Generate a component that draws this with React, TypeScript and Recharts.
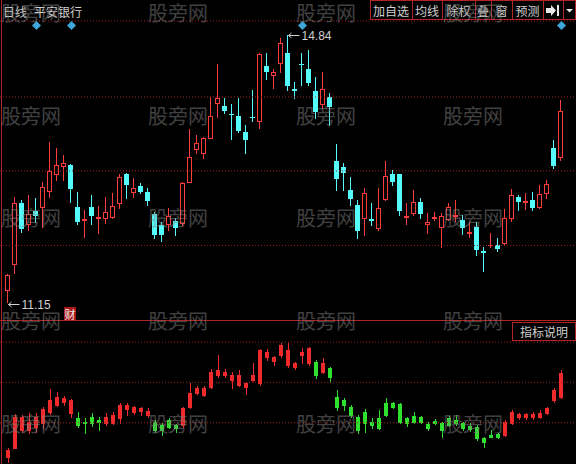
import React from "react";
import { ComposedChart, Bar, Scatter, XAxis, YAxis, ReferenceLine } from "recharts";

// 日K：开、高、低、收（元）
const priceOpen = [
  11.32, 11.68, 12.52, 12.23, 12.41, 12.46, 12.68, 12.91, 13.03, 13.04,
  12.46, 12.28, 12.46, 12.31, 12.31, 12.32, 12.52, 12.91, 12.67, 12.75,
  12.67, 12.37, 12.21, 12.23, 12.27, 12.24, 12.81, 13.26, 13.21, 13.42,
  13.9, 13.86, 13.75, 13.72, 13.49, 13.71, 13.65, 14.41, 14.29, 14.45,
  14.59, 14.09, 14.44, 14.37, 14.07, 13.89, 13.98, 13.09, 13.02, 12.7,
  12.49, 12.31, 12.3, 12.17, 12.57, 12.91, 12.91, 12.32, 12.38, 12.53,
  12.23, 12.31, 12.19, 12.3, 12.34, 12.28, 12.1, 12.19, 11.85, 11.93,
  11.94, 11.97, 12.31, 12.6, 12.53, 12.56, 12.46, 12.66, 13.28, 13.15,
];
const priceHigh = [
  11.54, 12.6, 12.56, 12.63, 12.59, 12.81, 13.36, 13.28, 13.18, 13.05,
  12.67, 12.42, 12.62, 12.48, 12.6, 12.66, 12.91, 12.93, 12.86, 12.79,
  12.73, 12.39, 12.26, 12.45, 12.31, 12.81, 13.54, 13.46, 13.43, 13.98,
  14.43, 13.96, 13.89, 13.96, 13.6, 14.08, 14.59, 14.59, 14.37, 14.8,
  14.84, 14.19, 14.59, 14.63, 14.25, 14.33, 14.04, 13.33, 13.07, 12.88,
  12.56, 12.73, 12.52, 12.73, 13.09, 12.97, 12.92, 12.52, 12.7, 12.59,
  12.38, 12.39, 12.38, 12.52, 12.56, 12.35, 12.26, 12.26, 11.91, 12.1,
  12.03, 12.44, 12.71, 12.63, 12.66, 12.67, 12.77, 12.84, 13.38, 13.94,
];
const priceLow = [
  11.15, 11.55, 12.12, 12.15, 12.26, 12.19, 12.6, 12.84, 12.84, 12.53,
  12.23, 12.05, 12.23, 12.1, 12.24, 12.31, 12.45, 12.59, 12.6, 12.66,
  12.49, 12.03, 11.99, 12.15, 12.08, 12.21, 12.8, 13.21, 13.14, 13.41,
  13.71, 13.76, 13.4, 13.49, 13.21, 13.65, 13.55, 14.23, 14.11, 14.32,
  14.08, 13.97, 14.15, 14.15, 13.69, 13.83, 13.6, 12.7, 12.7, 12.49,
  12.03, 12.08, 12.21, 12.15, 12.56, 12.77, 12.35, 12.23, 12.35, 12.31,
  12.1, 12.28, 11.91, 12.28, 12.27, 12.09, 12.05, 11.8, 11.57, 11.91,
  11.85, 11.95, 12.27, 12.42, 12.44, 12.42, 12.45, 12.59, 13.0, 13.11,
];
const priceClose = [
  11.52, 12.52, 12.17, 12.37, 12.35, 12.74, 12.96, 13.04, 13.07, 12.73,
  12.27, 12.3, 12.35, 12.32, 12.39, 12.48, 12.88, 12.78, 12.73, 12.68,
  12.56, 12.09, 12.09, 12.34, 12.19, 12.79, 13.15, 13.35, 13.42, 13.72,
  13.96, 13.8, 13.74, 13.53, 13.4, 13.7, 14.58, 14.34, 14.33, 14.73,
  14.15, 14.08, 14.43, 14.19, 13.79, 14.09, 13.85, 12.86, 12.95, 12.59,
  12.15, 12.66, 12.28, 12.45, 12.89, 12.82, 12.42, 12.34, 12.53, 12.38,
  12.26, 12.32, 12.34, 12.46, 12.35, 12.19, 12.12, 11.88, 11.84, 11.94,
  11.9, 12.31, 12.63, 12.55, 12.55, 12.46, 12.64, 12.78, 13.04, 13.78,
];

// 副图指标（K线形式）
const oscOpen = [
  5.0, 12.4, 27.3, 27.3, 29.8, 33.1, 42.1, 47.9, 50.4, 41.3,
  37.2, 33.9, 38.0, 35.5, 33.1, 33.1, 37.2, 44.6, 42.1, 43.0,
  39.7, 33.9, 31.4, 35.5, 31.4, 31.4, 46.3, 57.8, 56.2, 62.8,
  72.7, 72.7, 68.6, 64.5, 62.8, 68.6, 66.1, 87.6, 84.3, 89.3,
  81.0, 79.3, 89.3, 82.6, 83.5, 75.2, 78.5, 54.5, 52.1, 46.3,
  38.0, 42.1, 33.9, 37.2, 49.6, 49.6, 48.8, 37.2, 38.8, 38.0,
  32.2, 34.7, 33.1, 37.2, 35.5, 33.1, 30.6, 29.8, 20.7, 23.1,
  24.0, 23.1, 33.1, 38.0, 38.0, 38.0, 38.0, 41.3, 52.1, 54.5,
];
const oscHigh = [
  12.4, 40.5, 39.7, 41.3, 41.3, 46.3, 61.2, 58.7, 55.4, 52.5,
  42.1, 37.2, 41.3, 38.0, 41.3, 42.1, 49.6, 49.6, 47.1, 46.3,
  45.5, 35.5, 33.1, 37.2, 32.2, 46.3, 66.1, 63.6, 63.6, 77.7,
  89.3, 77.7, 75.2, 76.9, 66.9, 82.6, 94.2, 94.2, 88.4, 99.2,
  99.2, 83.5, 95.0, 95.9, 85.1, 86.8, 79.3, 60.3, 53.7, 47.9,
  39.7, 44.6, 37.2, 43.8, 53.7, 50.4, 49.6, 38.0, 42.1, 38.8,
  33.9, 36.4, 33.9, 38.8, 39.7, 33.9, 33.1, 31.4, 21.5, 27.3,
  24.8, 35.5, 43.8, 41.3, 41.3, 42.1, 43.8, 46.3, 62.0, 76.9,
];
const oscLow = [
  0.8, 12.0, 25.6, 24.8, 25.6, 28.9, 40.5, 47.1, 47.9, 38.0,
  29.8, 24.8, 30.6, 27.3, 31.4, 32.2, 33.1, 39.7, 40.5, 39.7,
  38.0, 25.6, 23.1, 28.9, 25.6, 29.8, 45.5, 57.0, 55.4, 62.0,
  71.1, 71.1, 62.0, 63.6, 57.0, 67.8, 64.5, 85.1, 81.0, 87.6,
  79.3, 77.7, 82.6, 81.0, 70.2, 74.4, 66.9, 43.8, 43.8, 38.0,
  24.8, 25.6, 28.9, 28.1, 38.8, 45.5, 33.1, 30.6, 33.1, 33.1,
  27.3, 32.2, 21.5, 30.6, 31.4, 27.3, 26.4, 19.0, 13.2, 21.3,
  20.7, 22.3, 32.2, 36.4, 36.4, 36.4, 37.2, 40.5, 50.4, 53.7,
];
const oscClose = [
  10.7, 38.0, 38.0, 33.9, 38.0, 44.6, 52.1, 54.5, 53.7, 52.1,
  31.4, 33.1, 33.1, 33.9, 38.0, 39.7, 47.9, 47.9, 46.3, 45.5,
  43.0, 27.3, 27.3, 29.8, 28.9, 45.5, 57.8, 62.0, 62.0, 75.2,
  76.9, 75.2, 72.7, 72.7, 66.1, 72.7, 93.4, 91.7, 87.6, 97.5,
  93.4, 82.6, 91.7, 95.0, 72.7, 82.6, 71.1, 46.3, 47.9, 39.7,
  27.3, 33.1, 31.4, 28.9, 39.7, 46.3, 33.9, 33.1, 33.9, 33.9,
  28.9, 33.1, 27.3, 31.4, 33.1, 28.9, 28.1, 20.7, 17.4, 21.5,
  21.5, 33.9, 42.1, 40.5, 40.5, 40.5, 41.3, 45.5, 60.3, 74.4,
];

// 信息地雷所在的交易日序号
const infoDays = [5, 10, 43, 80];

const PRICE_MIN = 10.9;
const PRICE_MAX = 15.03;
const priceGrid = [15.03, 13.98, 12.96, 11.93];
const oscGrid = [100, 66.7, 33.3];
const toolbar = [
  { text: "加自选", from: 370, to: 412 },
  { text: "均线", from: 412, to: 442 },
  { text: "除权", from: 442, to: 475 },
  { text: "叠", from: 475, to: 491 },
  { text: "窗", from: 491, to: 512 },
  { text: "预测", from: 512, to: 543 },
];
const watermarkRows = [12, 115, 217, 320, 423];
const watermarkCols = [1, 148, 296, 443];

const RED = "#ff3c3c";
const CYAN = "#54fcfc";
const OSC_RED = "#f02a2a";
const OSC_GREEN = "#2fe02f";
const FRAME = "#b02424";
const GRID = "#a02020";
const TEXT = "#d0d0d0";
const CJK = "'Noto Sans CJK SC', sans-serif";
const NUM = "'Liberation Sans', Arial, sans-serif";

const days = priceOpen.map((_, i) => i + 1);

const priceData = days.map((day, i) => ({
  day,
  open: priceOpen[i],
  high: priceHigh[i],
  low: priceLow[i],
  close: priceClose[i],
  info: infoDays.includes(day) ? PRICE_MAX : null,
}));

const oscData = days.map((day, i) => ({
  day,
  open: oscOpen[i],
  high: oscHigh[i],
  low: oscLow[i],
  close: oscClose[i],
}));

const maxDay = priceData.reduce((a, b) => (b.high > a.high ? b : a)).day;
const minDay = priceData.reduce((a, b) => (b.low < a.low ? b : a)).day;

function PriceLabel({ x, y, value }: { x: number; y: number; value: number }) {
  return (
    <g>
      <path d={`M${x + 1} ${y + 0.5}H${x + 12}M${x + 4} ${y - 2}L${x + 1} ${y + 0.5}L${x + 4} ${y + 3}`} stroke={TEXT} fill="none" />
      <text x={x + 14} y={y + 1} fill={TEXT} fontSize={12} fontFamily={NUM} dominantBaseline="central">
        {value.toFixed(2)}
      </text>
    </g>
  );
}

function makeCandle(up: string, down: string, hollowUp: boolean, bodyW: number, labels: boolean) {
  return (props: any) => {
    const { x, y, width, height, payload } = props;
    if (!payload || y == null || isNaN(y)) return null;
    const top = Math.min(y, y + height);
    const span = Math.abs(height);
    const { open, high, low, close } = payload;
    const toY = (v: number) => top + ((high - v) / (high - low)) * span;
    const rising = close >= open;
    const color = rising ? up : down;
    const px = Math.round(x + (width - bodyW) / 2);
    const wx = px + Math.floor(bodyW / 2) + 0.5;
    const yHi = Math.round(top);
    const yLo = Math.round(top + span);
    const yTop = Math.round(toY(Math.max(open, close)));
    const yBot = Math.round(toY(Math.min(open, close)));
    let body;
    if (yBot - yTop < 1) {
      body = <line x1={px} x2={px + bodyW} y1={yTop + 0.5} y2={yTop + 0.5} stroke={color} />;
    } else if (rising && hollowUp) {
      body = <rect x={px + 0.5} y={yTop + 0.5} width={bodyW - 1} height={yBot - yTop} fill="#000" stroke={color} />;
    } else {
      body = <rect x={px} y={yTop} width={bodyW} height={yBot - yTop + 1} fill={color} />;
    }
    return (
      <g>
        <line x1={wx} x2={wx} y1={yHi} y2={yLo + 1} stroke={color} />
        {body}
        {labels && payload.day === maxDay && <PriceLabel x={wx} y={yHi} value={high} />}
        {labels && payload.day === minDay && <PriceLabel x={wx} y={yLo + 2} value={low} />}
      </g>
    );
  };
}

const priceCandle = makeCandle(RED, CYAN, true, 5, true);
const oscCandle = makeCandle(OSC_RED, OSC_GREEN, false, 4, false);

const InfoMark = (props: any) => {
  if (!props.payload || props.payload.info == null) return null;
  const cx = Math.round(props.cx) + 1.5;
  const cy = props.cy + 4.5;
  return <path d={`M${cx} ${cy - 4.5}L${cx + 4.5} ${cy}L${cx} ${cy + 4.5}L${cx - 4.5} ${cy}Z`} fill="#3ea6d8" />;
};

export default function App() {
  return (
    <div style={{ position: "absolute", left: 0, top: 0, width: 576, height: 464, background: "#000", overflow: "hidden" }}>
      <div style={{ position: "absolute", left: 0, top: 0 }}>
        <ComposedChart width={576} height={320} data={priceData} margin={{ top: 21, right: 0, bottom: 0, left: 0 }}>
          <XAxis dataKey="day" hide padding={{ left: 3.5, right: 12.5 }} />
          <YAxis hide domain={[PRICE_MIN, PRICE_MAX]} allowDataOverflow />
          {priceGrid.map((v) => (
            <ReferenceLine key={v} y={v} stroke={GRID} strokeDasharray="1 2" />
          ))}
          <Bar dataKey={(d: any) => [d.low, d.high]} barSize={5} shape={priceCandle} isAnimationActive={false} />
          <Scatter dataKey="info" shape={InfoMark} isAnimationActive={false} />
        </ComposedChart>
      </div>
      <div style={{ position: "absolute", left: 0, top: 320 }}>
        <ComposedChart width={576} height={144} data={oscData} margin={{ top: 22, right: 0, bottom: 1, left: 0 }}>
          <XAxis dataKey="day" hide padding={{ left: 3.5, right: 12.5 }} />
          <YAxis hide domain={[0, 100]} allowDataOverflow />
          {oscGrid.map((v) => (
            <ReferenceLine key={v} y={v} stroke={GRID} strokeDasharray="1 2" />
          ))}
          <Bar dataKey={(d: any) => [d.low, d.high]} barSize={4} shape={oscCandle} isAnimationActive={false} />
        </ComposedChart>
      </div>
      <svg width={576} height={464} style={{ position: "absolute", left: 0, top: 0, pointerEvents: "none" }}>
        {/* frame */}
        <line x1={1.5} y1={0} x2={1.5} y2={464} stroke={FRAME} />
        <line x1={0} y1={320.5} x2={576} y2={320.5} stroke={FRAME} />

        {/* title */}
        <text x={3} y={11} fill={TEXT} fontSize={12} fontFamily={CJK} dominantBaseline="central">日线</text>
        <text x={34} y={11} fill={TEXT} fontSize={12} fontFamily={CJK} dominantBaseline="central">平安银行</text>

        {/* toolbar */}
        <rect x={370.5} y={0.5} width={205} height={19} fill="#000" stroke={FRAME} />
        {toolbar.map((b) => (
          <g key={b.text}>
            <line x1={b.to + 0.5} x2={b.to + 0.5} y1={0} y2={20} stroke={FRAME} />
            <text x={(b.from + b.to) / 2} y={10.5} fill={TEXT} fontSize={12} fontFamily={CJK} textAnchor="middle" dominantBaseline="central">
              {b.text}
            </text>
          </g>
        ))}
        <line x1={563.5} x2={563.5} y1={0} y2={20} stroke={FRAME} />
        <path d="M546 8H551V5L556 10.5L551 16V13H546Z" fill="#e8e8e8" />
        <rect x={557} y={5} width={2} height={11} fill="#e8e8e8" />
        <path d="M566 9H573L569.5 12.5Z" fill="#e8e8e8" />

        {/* 财务标记 */}
        <rect x={64} y={307} width={12} height={13} fill="#a81818" />
        <text x={70} y={313.5} fill="#f0f0f0" fontSize={11} fontFamily={CJK} textAnchor="middle" dominantBaseline="central">财</text>

        {/* indicator note */}
        <rect x={512.5} y={322.5} width={63} height={18} fill="#000" stroke={FRAME} />
        <text x={544} y={331.5} fill={TEXT} fontSize={12} fontFamily={CJK} textAnchor="middle" dominantBaseline="central">指标说明</text>

        {/* watermark */}
        {watermarkRows.map((wy) =>
          watermarkCols.map((wx) => (
            <text key={`${wx}-${wy}`} x={wx} y={wy} fill="#808080" opacity={0.5} fontSize={20} fontFamily={CJK} dominantBaseline="central">
              股旁网
            </text>
          ))
        )}
      </svg>
    </div>
  );
}
